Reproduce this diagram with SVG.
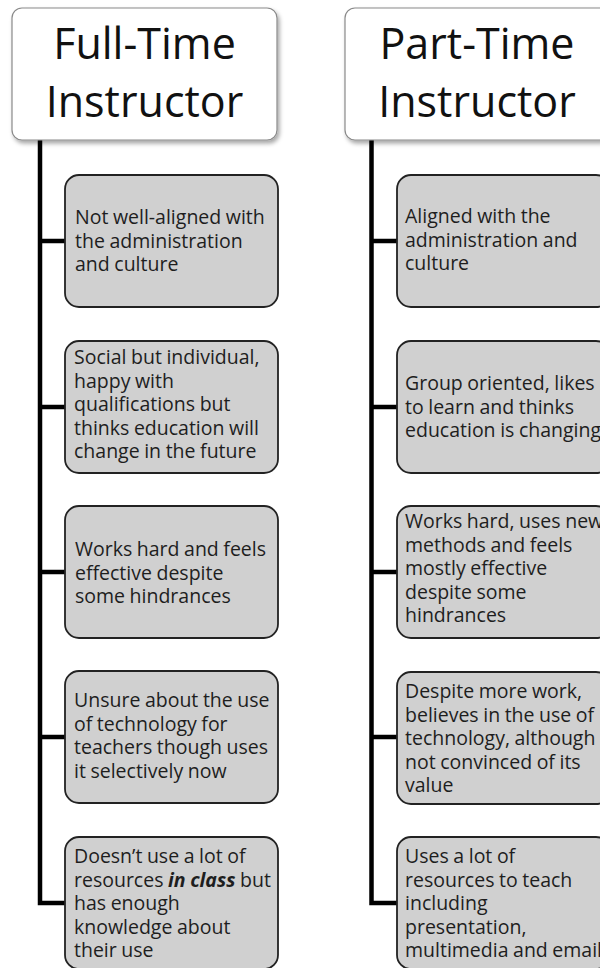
<svg xmlns="http://www.w3.org/2000/svg" width="600" height="968" viewBox="0 0 600 968">
  <defs>
    <filter id="shadow" x="-10%" y="-10%" width="130%" height="130%">
      <feDropShadow dx="2" dy="3" stdDeviation="2" flood-color="#000" flood-opacity="0.35"/>
    </filter>
  </defs>
  <style>
    .head rect { fill: #ffffff; stroke: #8a8a8a; stroke-width: 1.2; filter: url(#shadow); }
    .head text { font-family: "Open Sans", "Noto Sans", sans-serif; font-size: 43px; fill: #111; text-anchor: middle; }
    .item rect { fill: #d0d0d0; stroke: #222; stroke-width: 1.8; }
    .item text { font-family: "Open Sans", "Noto Sans", sans-serif; font-size: 19.5px; fill: #1e1e1e; word-spacing: -0.5px; }
    .wire { fill: none; stroke: #000; stroke-width: 4.5; stroke-linejoin: miter; }
  </style>

  <!-- connectors: trunk from each header down the column, with a branch to every item -->
  <g id="connectors">
    <path class="wire" d="M40 140 V903 H65 M40 241 H65 M40 407 H65 M40 572 H65 M40 737 H65"/>
    <path class="wire" d="M371.5 140 V903 H397 M371.5 241 H397 M371.5 407 H397 M371.5 572 H397 M371.5 737 H397"/>
  </g>

  <!-- column headers -->
  <g id="full-time" class="head">
    <rect x="12" y="8" width="265" height="132" rx="10"/>
    <text x="144.5" y="59">Full-Time</text>
    <text x="144.5" y="117">Instructor</text>
  </g>
  <g id="part-time" class="head">
    <rect x="345" y="8" width="265" height="132" rx="10"/>
    <text x="477" y="59">Part-Time</text>
    <text x="477" y="117">Instructor</text>
  </g>

  <!-- full-time items -->
  <g id="ft-1" class="item">
    <rect x="65" y="175" width="213" height="132" rx="14"/>
    <text x="75" y="224">Not well-aligned with</text>
    <text x="75" y="247.5">the administration</text>
    <text x="75" y="271">and culture</text>
  </g>
  <g id="ft-2" class="item">
    <rect x="65" y="341" width="213" height="132" rx="14"/>
    <text x="74" y="364">Social but individual,</text>
    <text x="74" y="387.5">happy with</text>
    <text x="74" y="411">qualifications but</text>
    <text x="74" y="434.5">thinks education will</text>
    <text x="74" y="458">change in the future</text>
  </g>
  <g id="ft-3" class="item">
    <rect x="65" y="506" width="213" height="132" rx="14"/>
    <text x="75" y="556">Works hard and feels</text>
    <text x="75" y="579.5">effective despite</text>
    <text x="75" y="603">some hindrances</text>
  </g>
  <g id="ft-4" class="item">
    <rect x="65" y="671" width="213" height="132" rx="14"/>
    <text x="74" y="707">Unsure about the use</text>
    <text x="74" y="730.5">of technology for</text>
    <text x="74" y="754">teachers though uses</text>
    <text x="74" y="777.5">it selectively now</text>
  </g>
  <g id="ft-5" class="item">
    <rect x="65" y="837" width="213" height="132" rx="14"/>
    <text x="74" y="863">Doesn’t use a lot of</text>
    <text x="74" y="886.5">resources <tspan font-style="italic" font-weight="bold">in class</tspan> but</text>
    <text x="74" y="910">has enough</text>
    <text x="74" y="933.5">knowledge about</text>
    <text x="74" y="957">their use</text>
  </g>

  <!-- part-time items -->
  <g id="pt-1" class="item">
    <rect x="397" y="175" width="213" height="132" rx="14"/>
    <text x="405" y="223">Aligned with the</text>
    <text x="405" y="246.5">administration and</text>
    <text x="405" y="270">culture</text>
  </g>
  <g id="pt-2" class="item">
    <rect x="397" y="341" width="213" height="132" rx="14"/>
    <text x="405" y="390">Group oriented, likes</text>
    <text x="405" y="413.5">to learn and thinks</text>
    <text x="405" y="437">education is changing</text>
  </g>
  <g id="pt-3" class="item">
    <rect x="397" y="506" width="213" height="132" rx="14"/>
    <text x="405" y="528">Works hard, uses new</text>
    <text x="405" y="551.5">methods and feels</text>
    <text x="405" y="575">mostly effective</text>
    <text x="405" y="598.5">despite some</text>
    <text x="405" y="622">hindrances</text>
  </g>
  <g id="pt-4" class="item">
    <rect x="397" y="672" width="213" height="132" rx="14"/>
    <text x="405" y="698">Despite more work,</text>
    <text x="405" y="721.5">believes in the use of</text>
    <text x="405" y="745">technology, although</text>
    <text x="405" y="768.5">not convinced of its</text>
    <text x="405" y="792">value</text>
  </g>
  <g id="pt-5" class="item">
    <rect x="397" y="837" width="213" height="132" rx="14"/>
    <text x="405" y="863">Uses a lot of</text>
    <text x="405" y="886.5">resources to teach</text>
    <text x="405" y="910">including</text>
    <text x="405" y="933.5">presentation,</text>
    <text x="405" y="957">multimedia and email</text>
  </g>
</svg>
